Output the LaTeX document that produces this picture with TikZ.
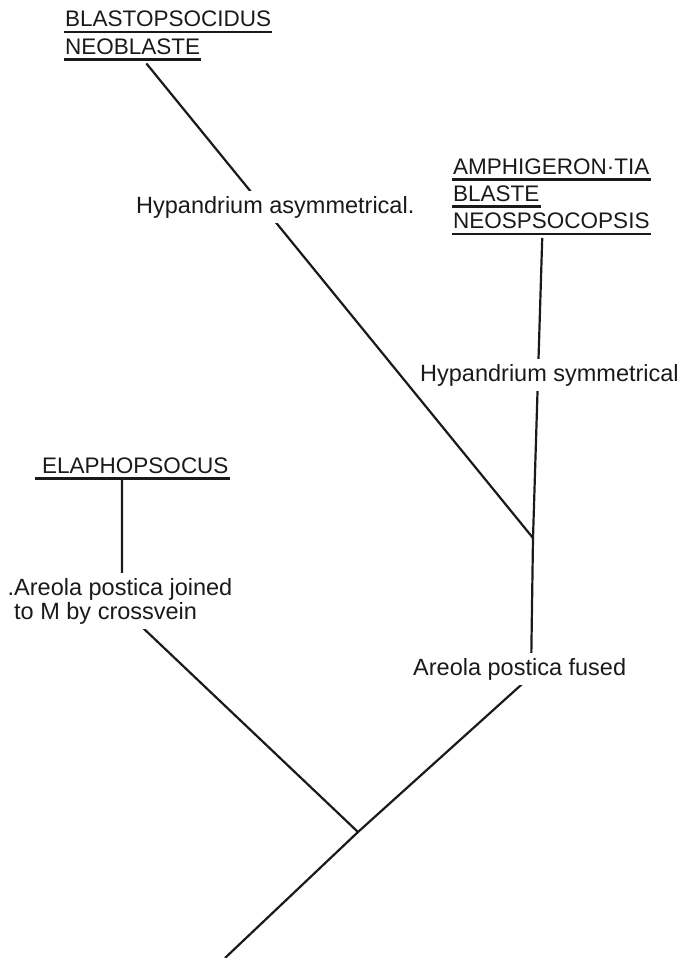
\documentclass[tikz,border=0pt]{standalone}
\usepackage{fontspec}
\usepackage{tikz}
\usetikzlibrary{positioning,backgrounds}
\newfontfamily\lblfont{Liberation Sans}
\definecolor{Ink}{HTML}{1A1A1A}
\tikzset{
 taxon/.style={font=\lblfont\fontsize{22.5}{24}\selectfont,text=Ink,inner xsep=1pt,inner ysep=5pt,
   text height=16pt,text depth=0pt,anchor=base west},
 note/.style={font=\lblfont\fontsize{23.5}{24}\selectfont,text=Ink,fill=white,inner xsep=2pt,
   inner ysep=5pt,align=left,anchor=base west},
 branch/.style={draw=Ink,line width=2.2pt},
 uline/.style={draw=Ink,line width=2.6pt}
}
\begin{document}
\begin{tikzpicture}[x=1pt,y=-1pt,node distance=1pt]
\useasboundingbox (0,0) rectangle (681,958);
% taxa
\node[taxon] (blasto) at (64,27) {BLASTOPSOCIDUS};
\node[taxon,below=of blasto.south west,anchor=north west] (neoblaste) {NEOBLASTE};
\node[taxon] (amphi) at (452,174) {AMPHIGERON·TIA};
\node[taxon,below=of amphi.south west,anchor=north west] (blaste) {BLASTE};
\node[taxon,below=of blaste.south west,anchor=north west] (neosp) {NEOSPSOCOPSIS};
\node[taxon] (elapho) at (41,473) {ELAPHOPSOCUS};
% characters
\node[note] (hypasym) at (134,213) {Hypandrium asymmetrical.};
\node[note] (hypsym) at (418,381) {Hypandrium symmetrical};
\node[note] (joined) at (12,619) {\llap{.}Areola postica joined\\to M by crossvein};
\node[note] (fused) at (411,675) {Areola postica fused};
% branch points
\coordinate (j2) at (533,538);
\coordinate (j1) at (358,832);
\coordinate (root) at (225,958);
\coordinate (bendR) at (531,676);
\coordinate (bendL) at (122,608);
\draw[uline] (blasto.south west)--(blasto.south east);\draw[uline] (neoblaste.south west)--(neoblaste.south east);
\draw[uline] (amphi.south west)--(amphi.south east);\draw[uline] (blaste.south west)--(blaste.south east);
\draw[uline] (neosp.south west)--(neosp.south east);\draw[uline] ([xshift=-6pt]elapho.south west)--(elapho.south east);
\begin{scope}[on background layer]
\draw[branch,shorten <=5pt] ([xshift=10.5pt]neoblaste.south)--(j2);
\draw[branch,shorten <=4pt] ([xshift=-9pt]neosp.south)--(j2)--(bendR)--(j1)--(root);
\draw[branch] (elapho.south -| bendL)--(bendL)--(j1);
\end{scope}
\end{tikzpicture}
\end{document}
